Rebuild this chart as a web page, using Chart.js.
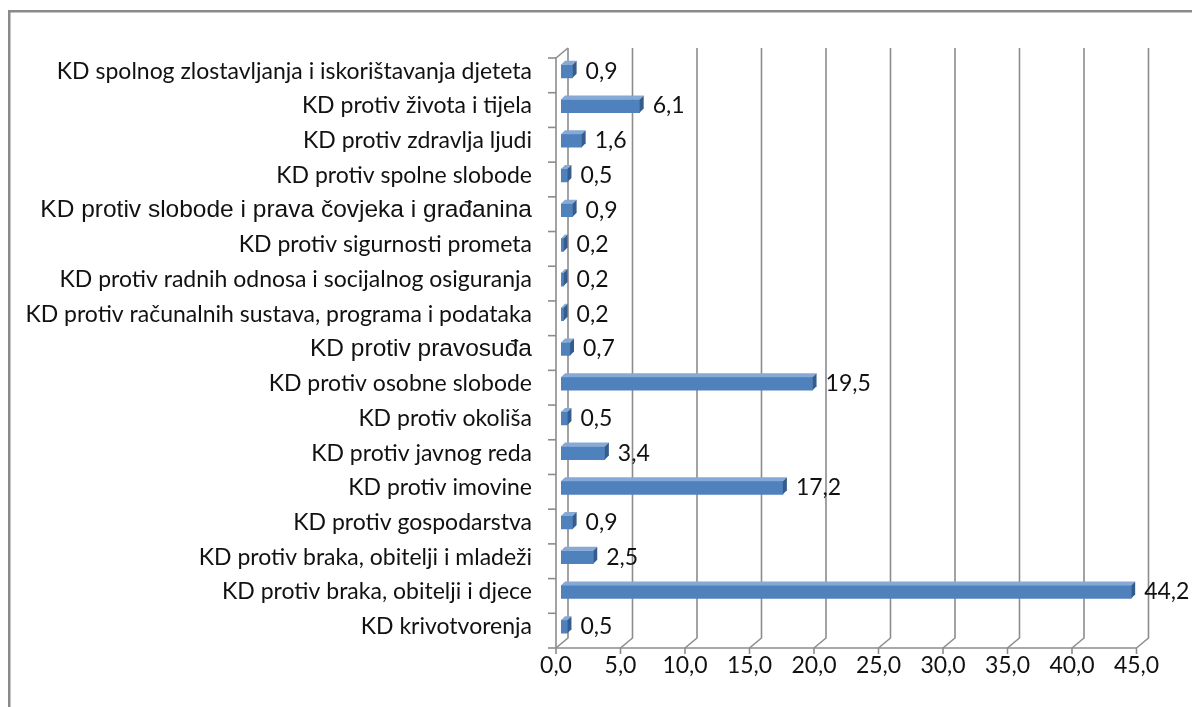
<!DOCTYPE html>
<html>
<head>
<meta charset="utf-8">
<script src="https://cdn.jsdelivr.net/npm/chart.js@4.4.1/dist/chart.umd.min.js"></script>
<style>
  html, body { margin: 0; padding: 0; background: #fff; overflow: hidden; }
  #wrap { position: relative; width: 1192px; height: 707px; }
</style>
</head>
<body>
<div id="wrap"><canvas id="chart"></canvas></div>
<script>
// data, top to bottom as in the picture
const categories = [
  'KD spolnog zlostavljanja i iskorištavanja djeteta',
  'KD protiv života i tijela',
  'KD protiv zdravlja ljudi',
  'KD protiv spolne slobode',
  'KD protiv slobode i prava čovjeka i građanina',
  'KD protiv sigurnosti prometa',
  'KD protiv radnih odnosa i socijalnog osiguranja',
  'KD protiv računalnih sustava, programa i podataka',
  'KD protiv pravosuđa',
  'KD protiv osobne slobode',
  'KD protiv okoliša',
  'KD protiv javnog reda',
  'KD protiv imovine',
  'KD protiv gospodarstva',
  'KD protiv braka, obitelji i mladeži',
  'KD protiv braka, obitelji i djece',
  'KD krivotvorenja'
];
const values = [0.9, 6.1, 1.6, 0.5, 0.9, 0.2, 0.2, 0.2, 0.7, 19.5, 0.5, 3.4, 17.2, 0.9, 2.5, 44.2, 0.5];
const xTicks = [0, 5, 10, 15, 20, 25, 30, 35, 40, 45];
// these two labels are set in Arial in the original
const arialLabels = ['KD protiv slobode i prava čovjeka i građanina', 'KD protiv pravosuđa'];

const fmt = v => v.toFixed(1).replace('.', ',');
const calibriLike = { family: 'Lato', size: 23 };
const arialFont = { family: 'Liberation Sans, Arial', size: 24.5 };

const FRONT = { dx: -5, dy: 4 };
const BACK = { dx: 7, dy: -6 };
const DEPTH = 4;

const frame3d = {
  id: 'frame3d',
  beforeDraw(chart) {
    const ctx = chart.ctx;
    ctx.save();
    ctx.fillStyle = '#fff';
    ctx.fillRect(0, 0, chart.width, chart.height);
    ctx.strokeStyle = '#8a8a8a';
    ctx.lineWidth = 2.5;
    ctx.strokeRect(9.25, 11.25, chart.width + 50, chart.height + 50);
    ctx.restore();
  },
  beforeDatasetsDraw(chart) {
    const ctx = chart.ctx;
    const xs = chart.scales.x, ys = chart.scales.y, a = chart.chartArea;
    ctx.save();
    ctx.strokeStyle = '#8c8c8c';
    ctx.lineWidth = 1.6;
    xTicks.forEach(v => {
      const px = xs.getPixelForValue(v);
      ctx.beginPath();
      ctx.moveTo(px + BACK.dx, a.top + BACK.dy);
      ctx.lineTo(px + BACK.dx, a.bottom + BACK.dy);
      ctx.lineTo(px + FRONT.dx, a.bottom + FRONT.dy);
      ctx.lineTo(px + FRONT.dx, a.bottom + FRONT.dy + 6);
      ctx.stroke();
    });
    const x0 = xs.getPixelForValue(0), x45 = xs.getPixelForValue(45);
    ctx.beginPath();
    ctx.moveTo(x0 + FRONT.dx, a.bottom + FRONT.dy);
    ctx.lineTo(x45 + FRONT.dx, a.bottom + FRONT.dy);
    ctx.stroke();
    // left wall
    ctx.beginPath();
    ctx.moveTo(x0 + FRONT.dx, a.bottom + FRONT.dy);
    ctx.lineTo(x0 + FRONT.dx, a.top + FRONT.dy);
    ctx.lineTo(x0 + BACK.dx, a.top + BACK.dy);
    ctx.stroke();
    const band = ys.getPixelForValue(1) - ys.getPixelForValue(0);
    for (let i = 0; i <= categories.length; i++) {
      const yb = ys.getPixelForValue(0) - band / 2 + i * band + FRONT.dy;
      ctx.beginPath();
      ctx.moveTo(x0 + FRONT.dx - 8, yb);
      ctx.lineTo(x0 + FRONT.dx, yb);
      ctx.stroke();
    }
    ctx.restore();
  },
  afterDatasetsDraw(chart) {
    const ctx = chart.ctx;
    const meta = chart.getDatasetMeta(0);
    ctx.save();
    meta.data.forEach((bar, i) => {
      const h = bar.height, top = bar.y - h / 2, bot = bar.y + h / 2;
      // top face
      ctx.fillStyle = '#86a9d6';
      ctx.beginPath();
      ctx.moveTo(bar.base, top);
      ctx.lineTo(bar.x, top);
      ctx.lineTo(bar.x + DEPTH, top - DEPTH);
      ctx.lineTo(bar.base + DEPTH, top - DEPTH);
      ctx.closePath();
      ctx.fill();
      // end face
      ctx.fillStyle = '#345d8e';
      ctx.beginPath();
      ctx.moveTo(bar.x, top);
      ctx.lineTo(bar.x + DEPTH, top - DEPTH);
      ctx.lineTo(bar.x + DEPTH, bot - DEPTH);
      ctx.lineTo(bar.x, bot);
      ctx.closePath();
      ctx.fill();
      // value label
      ctx.fillStyle = '#111';
      ctx.font = `${calibriLike.size}px ${calibriLike.family}`;
      ctx.textAlign = 'left';
      ctx.textBaseline = 'middle';
      ctx.fillText(fmt(values[i]), bar.x + DEPTH + 9, bar.y);
    });
    ctx.restore();
  }
};

new Chart(document.getElementById('chart'), {
  type: 'bar',
  data: {
    labels: categories,
    datasets: [{
      data: values,
      backgroundColor: '#4f81bd',
      borderWidth: 0,
      barThickness: 13
    }]
  },
  options: {
    indexAxis: 'y',
    responsive: true,
    maintainAspectRatio: false,
    animation: false,
    layout: { padding: { top: 54, right: 50.5, left: 0, bottom: 0 } },
    plugins: {
      legend: { display: false },
      tooltip: { enabled: false }
    },
    scales: {
      x: {
        type: 'linear',
        min: 0,
        max: 45,
        afterBuildTicks: s => { s.ticks = xTicks.map(v => ({ value: v })); },
        afterFit: s => { s.height = 63; },
        grid: { display: false, drawTicks: false },
        border: { display: false },
        ticks: {
          callback: v => fmt(v),
          font: calibriLike,
          color: '#111',
          padding: 8,
          labelOffset: -5,
          maxRotation: 0,
          autoSkip: false
        }
      },
      y: {
        type: 'category',
        afterFit: s => { s.width = 561; },
        grid: { display: false, drawTicks: false },
        border: { display: false },
        ticks: {
          font: ctx => arialLabels.includes(categories[ctx.index]) ? arialFont : calibriLike,
          color: '#111',
          padding: 29,
          autoSkip: false
        }
      }
    }
  },
  plugins: [frame3d]
});
</script>
</body>
</html>
